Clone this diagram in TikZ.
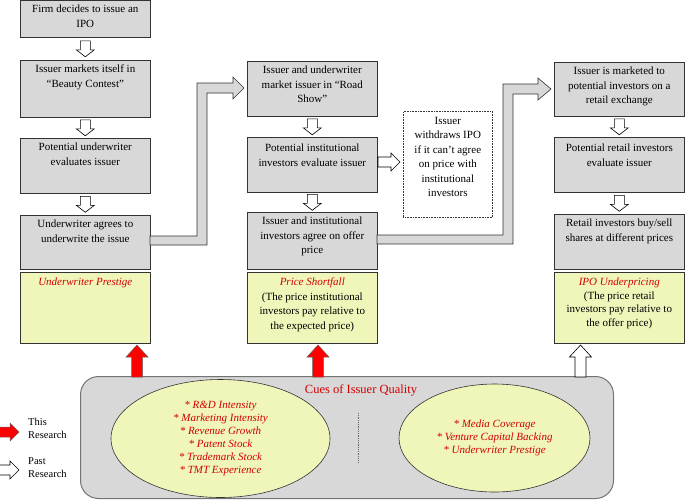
\documentclass[tikz,border=0pt]{standalone}
\usepackage{fontspec}
\setmainfont{Liberation Serif}
\usetikzlibrary{shapes.geometric,calc}
\definecolor{boxgray}{RGB}{216,216,216}
\definecolor{paleyel}{RGB}{240,245,186}
\definecolor{cuered}{RGB}{210,0,0}
\tikzset{
 graybox/.style={draw=black!80, fill=boxgray, line width=0.6pt, rectangle, inner sep=0, anchor=north west, minimum width=130pt},
 yelbox/.style={draw=black!80, fill=paleyel, line width=0.6pt, rectangle, inner sep=0, anchor=north west, minimum width=130pt, minimum height=71pt},
 txt/.style={anchor=north, align=center, font=\fontsize{11}{14.5}\selectfont, inner sep=0},
 redit/.style={font=\fontsize{11}{13}\selectfont\itshape, text=cuered},
 hollow/.style={draw=black, fill=white, line width=0.6pt, line join=miter},
 conn/.style={draw=black!80, fill=boxgray, line width=0.6pt, line join=miter},
 redarr/.style={draw=black!60, fill=red, line width=0.5pt, line join=miter},
 cueell/.style={ellipse, draw=black!80, fill=paleyel, line width=0.6pt, inner sep=0, align=center, font=\fontsize{11}{13}\selectfont\itshape, text=cuered},
 legtxt/.style={anchor=west, align=left, font=\fontsize{10.5}{13}\selectfont, inner sep=0}
}
\newcommand\hdown[1]{\draw[hollow] ($(#1)+(-5,-8)$) -- ($(#1)+(5,-8)$) -- ($(#1)+(5,1)$) -- ($(#1)+(9,1)$) -- ($(#1)+(0,8)$) -- ($(#1)+(-9,1)$) -- ($(#1)+(-5,1)$) -- cycle;}
\newcommand\bigup[2]{\draw[#2] ({#1-5.5},377) -- ({#1+5.5},377) -- ({#1+5.5},357) -- ({#1+11},357) -- (#1,345) -- ({#1-11},357) -- ({#1-5.5},357) -- cycle;}
\newcommand\legarr[2]{\draw[#2] (-1,{#1-5}) -- (10,{#1-5}) -- (10,{#1-9}) -- (19,#1) -- (10,{#1+9}) -- (10,{#1+5}) -- (-1,{#1+5}) -- cycle;}
\begin{document}
\begin{tikzpicture}[x=1pt,y=-1pt]
\useasboundingbox (0,0) rectangle (685,499);

% column 1
\node[graybox, minimum height=37pt] (a1) at (20,0) {};
\node[graybox, minimum height=57pt] (a2) at (20,60) {};
\node[graybox, minimum height=55pt] (a3) at (20,138) {};
\node[graybox, minimum height=54pt] (a4) at (20,215) {};
\node[yelbox] (a5) at (20,272) {};
\node[txt] (a1t) at ([yshift=-5pt]a1.north) {Firm decides to issue an\\IPO};
\node[txt] (a2t) at ([yshift=-5pt]a2.north) {Issuer markets itself in\\“Beauty Contest”};
\node[txt] (a3t) at ([yshift=-5pt]a3.north) {Potential underwriter\\evaluates issuer};
\node[txt] (a4t) at ([yshift=-5pt]a4.north) {Underwriter agrees to\\underwrite the issue};
\node[txt, redit] (a5t) at ([yshift=-6pt]a5.north) {Underwriter Prestige};

% column 2
\node[graybox, minimum height=55pt] (b1) at (247,61) {};
\node[graybox, minimum height=55pt] (b2) at (247,137) {};
\node[graybox, minimum height=57pt] (b3) at (247,212) {};
\node[yelbox] (b4) at (247,272) {};
\node[txt] (b1t) at ([yshift=-5pt]b1.north) {Issuer and underwriter\\market issuer in “Road\\Show”};
\node[txt] (b2t) at ([yshift=-7pt]b2.north) {Potential institutional\\investors evaluate issuer};
\node[txt] (b3t) at ([yshift=-5pt]b3.north) {Issuer and institutional\\investors agree on offer\\price};
\node[txt] (b4t) at ([yshift=-6pt]b4.north) {{\itshape\color{cuered}Price Shortfall}\\(The price institutional\\investors pay relative to\\the expected price)};

% withdraw box
\node[draw=black!80, densely dotted, fill=white, line width=0.6pt, inner sep=0, anchor=north west, minimum width=89pt, minimum height=106pt] (w) at (403,111) {};
\node[txt] (wt) at ([yshift=-6pt]w.north) {Issuer\\withdraws IPO\\if it can't agree\\on price with\\institutional\\investors};

% column 3
\node[graybox, minimum height=54pt] (c1) at (554,62) {};
\node[graybox, minimum height=55pt] (c2) at (554,137) {};
\node[graybox, minimum height=55pt] (c3) at (554,214) {};
\node[yelbox] (c4) at (554,272) {};
\node[txt] (c1t) at ([yshift=-5pt]c1.north) {Issuer is marketed to\\potential investors on a\\retail exchange};
\node[txt] (c2t) at ([yshift=-7pt]c2.north) {Potential retail investors\\evaluate issuer};
\node[txt] (c3t) at ([yshift=-5pt]c3.north) {Retail investors buy/sell\\shares at different prices};
\node[txt, font=\fontsize{11}{13.5}\selectfont] (c4t) at ([yshift=-6pt]c4.north) {{\itshape\color{cuered}IPO Underpricing}\\(The price retail\\investors pay relative to\\the offer price)};

% small down arrows
\coordinate (d1) at ($(a1.south)!0.5!(a2.north)$);
\coordinate (d2) at ($(a2.south)!0.5!(a3.north)$);
\coordinate (d3) at ($(a3.south)!0.5!(a4.north)$);
\coordinate (d4) at ($(b1.south)!0.5!(b2.north)$);
\coordinate (d5) at ($(b2.south)!0.5!(b3.north)$);
\coordinate (d6) at ($(c1.south)!0.5!(c2.north)$);
\coordinate (d7) at ($(c2.south)!0.5!(c3.north)$);
\hdown{d1}\hdown{d2}\hdown{d3}\hdown{d4}\hdown{d5}\hdown{d6}\hdown{d7}

% withdraw arrow
\draw[hollow] (378,157) -- (391,157) -- (391,153) -- (400,162) -- (391,171) -- (391,167) -- (378,167) -- cycle;

% big connectors
\draw[conn] (150,236) -- (197,236) -- (197,83) -- (233,83) -- (233,77) -- (244,88) -- (233,99) -- (233,93) -- (207,93) -- (207,245) -- (150,245) -- cycle;
\draw[conn] (377,235) -- (503,235) -- (503,84) -- (538,84) -- (538,78) -- (551,89) -- (538,100) -- (538,94) -- (513,94) -- (513,244) -- (377,244) -- cycle;

% cues panel
\node[draw=black!55, fill=boxgray, line width=1pt, rounded corners=18pt, inner sep=0, anchor=north west, minimum width=533pt, minimum height=122pt] (cues) at (80,376) {};
\node[font=\fontsize{12.5}{14}\selectfont, text=cuered, inner sep=0] (cuest) at (361,390) {Cues of Issuer Quality};
\node[cueell, minimum width=219pt, minimum height=118pt] (e1) at (220.5,438.5) {* R\&D Intensity\\* Marketing Intensity\\* Revenue Growth\\* Patent Stock\\* Trademark Stock\\* TMT Experience};
\node[cueell, minimum width=191pt, minimum height=108pt] (e2) at (494.5,438) {* Media Coverage\\* Venture Capital Backing\\* Underwriter Prestige};
\coordinate (s1) at (358,413);
\coordinate (s2) at (358,462);
\draw[densely dotted, black!60, line width=0.8pt] (s1) -- (s2);

% up arrows
\bigup{137}{redarr}
\bigup{318}{redarr}
\bigup{580.5}{hollow}

% legend
\legarr{432}{redarr}
\legarr{470}{hollow}
\node[legtxt] (l1) at (28,428.5) {This\\Research};
\node[legtxt] (l2) at (28,467.5) {Past\\Research};
\end{tikzpicture}
\end{document}
